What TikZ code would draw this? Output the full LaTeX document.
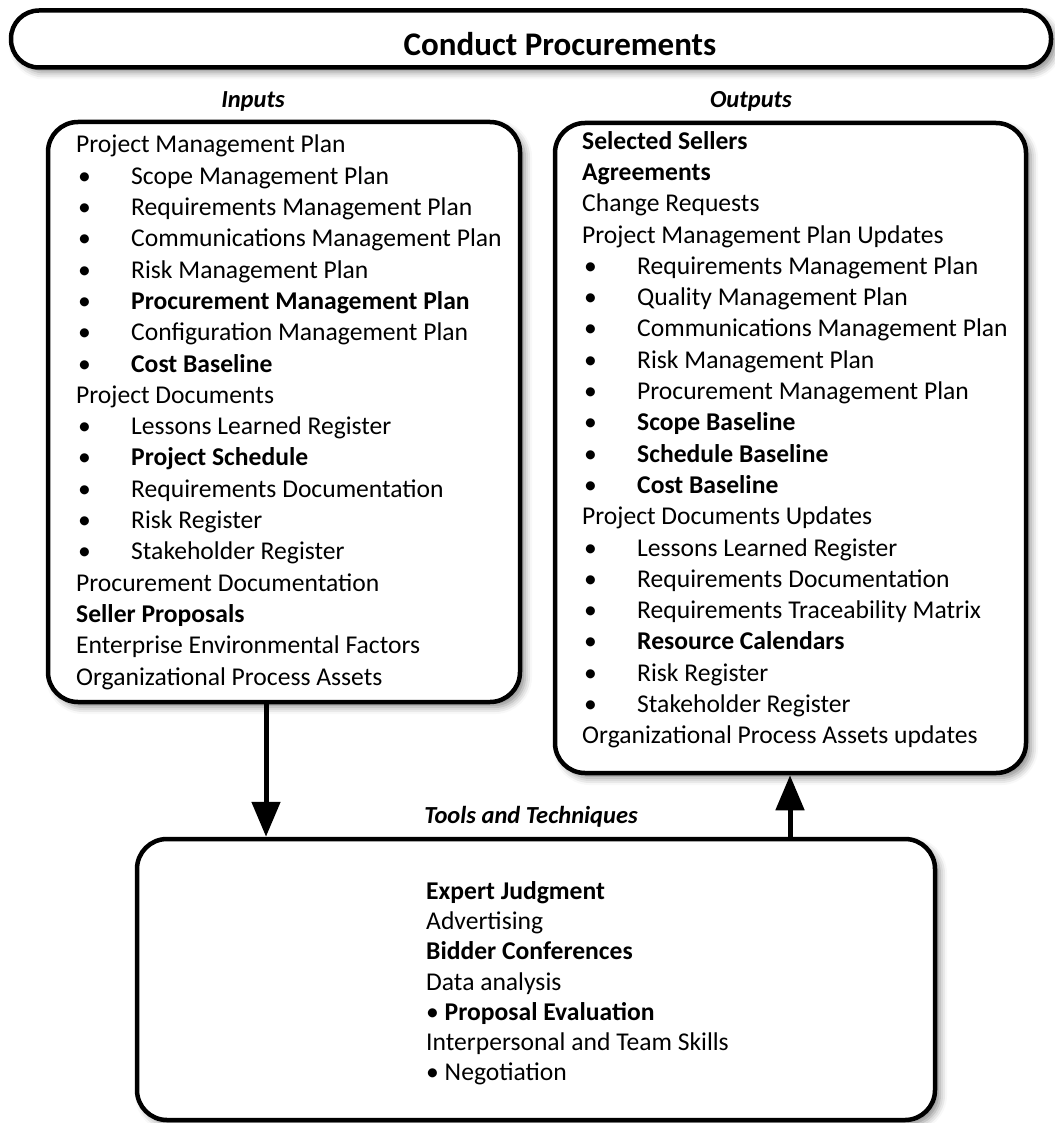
\documentclass[tikz,border=0pt]{standalone}
\usepackage{fontspec}
\setmainfont{Carlito}
\usetikzlibrary{arrows.meta,positioning,shadows.blur}

\tikzset{
	procbox/.style={draw, line width=4.5pt, rounded corners=30pt, fill=white,
		blur shadow={shadow xshift=5pt, shadow yshift=-5pt, shadow blur radius=7pt, shadow opacity=45}},
	lst/.style={anchor=north west, inner sep=0pt, align=left, font=\fontsize{25.6}{31.3}\selectfont},
	hdr/.style={anchor=base, inner sep=0pt, font=\fontsize{24.5}{28}\selectfont\bfseries\itshape},
	flow/.style={line width=5pt, -{Triangle[width=28pt,length=35pt]}}
}
\newcommand{\bul}{\makebox[55pt][l]{\hspace{2pt}\textbullet}}

\begin{document}
\begin{tikzpicture}[x=1pt, y=-1pt]

		\useasboundingbox (0,0) rectangle (1054,1123);

		% boxes
		\node[procbox, rounded corners=28pt, minimum width=1040pt, minimum height=57pt] (title) at (531,39) {};
		\node[procbox, minimum width=472pt, minimum height=580pt] (inbox) at (284,412) {};
		\node[procbox, minimum width=471pt, minimum height=650pt] (outbox) at (790.5,448) {};
		\node[procbox, minimum width=798pt, minimum height=281pt] (toolbox) at (536,979.5) {};

		\node[anchor=base, inner sep=0pt, font=\fontsize{33}{40}\selectfont\bfseries] (ttl) at (560,56) {Conduct Procurements};

		\node[hdr] (inlbl) at (253,108) {Inputs};
		\node[hdr] (outlbl) at (751,108) {Outputs};
		\node[hdr] (toollbl) at (531,823) {Tools and Techniques};

		% lists
		\node[lst] (intxt) at (76,135) {Project Management Plan\\
			\bul Scope Management Plan\\
			\bul Requirements Management Plan\\
			\bul Communications Management Plan\\
			\bul Risk Management Plan\\
			\bul \textbf{Procurement Management Plan}\\
			\bul Configuration Management Plan\\
			\bul \textbf{Cost Baseline}\\
			Project Documents\\
			\bul Lessons Learned Register\\
			\bul \textbf{Project Schedule}\\
			\bul Requirements Documentation\\
			\bul Risk Register\\
			\bul Stakeholder Register\\
			Procurement Documentation\\
			\textbf{Seller Proposals}\\
			Enterprise Environmental Factors\\
			Organizational Process Assets};

		\node[lst] (outtxt) at (582,131) {\textbf{Selected Sellers}\\
			\textbf{Agreements}\\
			Change Requests\\
			Project Management Plan Updates\\
			\bul Requirements Management Plan\\
			\bul Quality Management Plan\\
			\bul Communications Management Plan\\
			\bul Risk Management Plan\\
			\bul Procurement Management Plan\\
			\bul \textbf{Scope Baseline}\\
			\bul \textbf{Schedule Baseline}\\
			\bul \textbf{Cost Baseline}\\
			Project Documents Updates\\
			\bul Lessons Learned Register\\
			\bul Requirements Documentation\\
			\bul Requirements Traceability Matrix\\
			\bul \textbf{Resource Calendars}\\
			\bul Risk Register\\
			\bul Stakeholder Register\\
			Organizational Process Assets updates};

		\node[lst, font=\fontsize{25.6}{30.3}\selectfont] (tooltxt) at (426,881) {\textbf{Expert Judgment}\\
			Advertising\\
			\textbf{Bidder Conferences}\\
			Data analysis\\
			\textbullet\ \textbf{Proposal Evaluation}\\
			Interpersonal and Team Skills\\
			\textbullet\ Negotiation};

		% arrows
		\coordinate (a1) at (266,0);
		\coordinate (a2) at (790,0);
		\draw[flow] (inbox.south -| a1) -- (toolbox.north -| a1);
		\draw[flow] (toolbox.north -| a2) -- (outbox.south -| a2);

\end{tikzpicture}
\end{document}
